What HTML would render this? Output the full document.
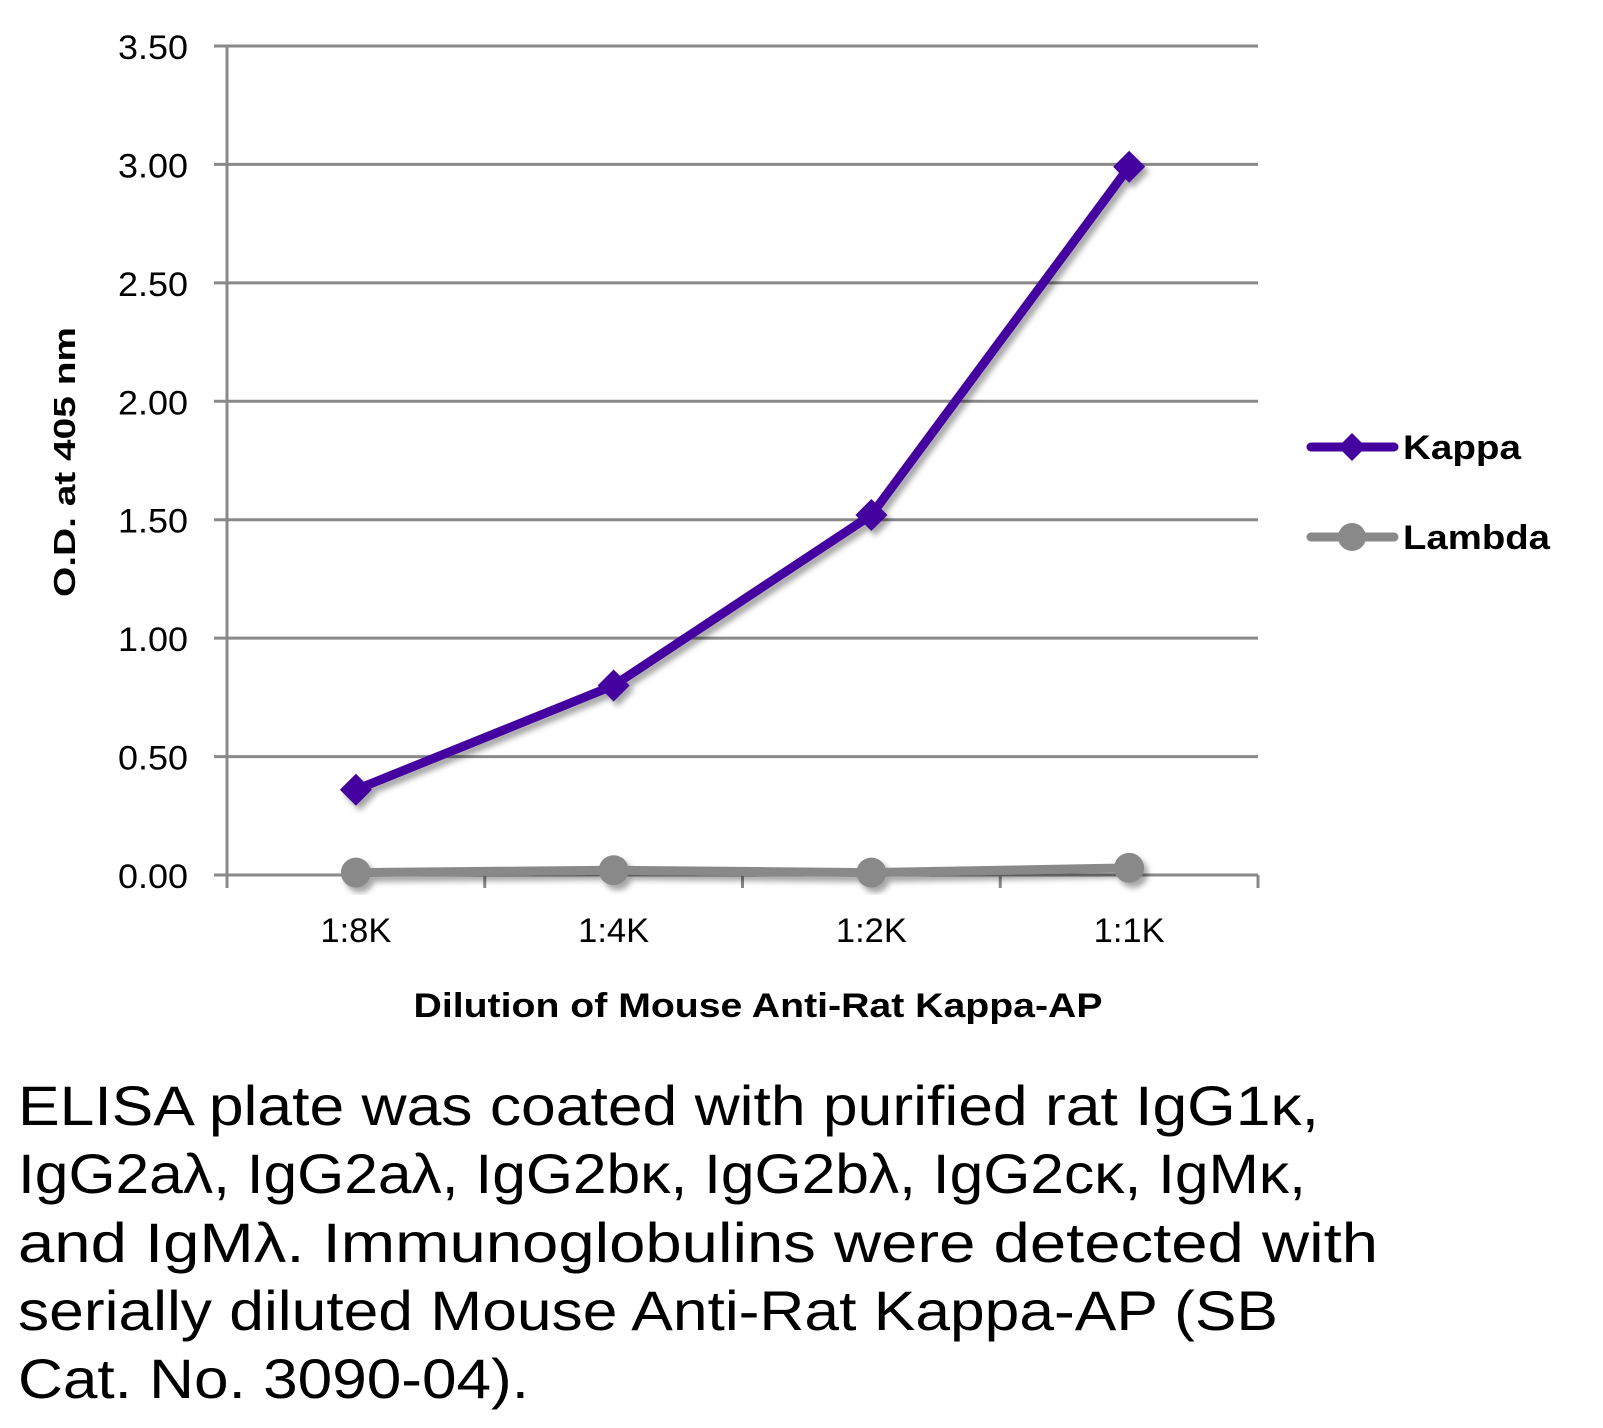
<!DOCTYPE html>
<html><head><meta charset="utf-8"><style>
html,body{margin:0;padding:0;background:#fff;}
svg{display:block;}
text{font-family:"Liberation Sans",sans-serif;}
</style></head><body>
<svg id="chart" width="1603" height="1428" viewBox="0 0 1603 1428" xmlns="http://www.w3.org/2000/svg">
<defs>
<filter id="sh" x="-20%" y="-20%" width="140%" height="140%">
<feDropShadow dx="4" dy="5" stdDeviation="3" flood-color="#000" flood-opacity="0.35"/>
</filter>
</defs>
<g id="grid"></g>
<g id="axes"></g>
<g id="series"></g>
<text transform="translate(75,462) rotate(-90)" text-anchor="middle" font-size="31" font-weight="bold" textLength="270" lengthAdjust="spacingAndGlyphs">O.D. at 405 nm</text>
<text x="758" y="1017" text-anchor="middle" font-size="34" font-weight="bold" textLength="689" lengthAdjust="spacingAndGlyphs">Dilution of Mouse Anti-Rat Kappa-AP</text>
<g>
<g>
<line x1="1311" y1="447" x2="1394" y2="447" stroke="#4500a0" stroke-width="9" stroke-linecap="round"/>
<polygon points="1352,433 1366,447 1352,461 1338,447" fill="#4500a0"/>
<text x="1403" y="459" font-size="34" font-weight="bold" textLength="118" lengthAdjust="spacingAndGlyphs">Kappa</text>
</g>
<g>
<line x1="1311" y1="537" x2="1394" y2="537" stroke="#898989" stroke-width="9" stroke-linecap="round"/>
<circle cx="1352" cy="537" r="14" fill="#898989"/>
<text x="1403" y="549" font-size="34" font-weight="bold" textLength="147" lengthAdjust="spacingAndGlyphs">Lambda</text>
</g>
</g>
<g font-size="56">
<text x="18" y="1125" textLength="1301" lengthAdjust="spacingAndGlyphs">ELISA plate was coated with purified rat IgG1κ,</text>
<text x="18" y="1193" textLength="1288" lengthAdjust="spacingAndGlyphs">IgG2aλ, IgG2aλ, IgG2bκ, IgG2bλ, IgG2cκ, IgMκ,</text>
<text x="18" y="1262" textLength="1360" lengthAdjust="spacingAndGlyphs">and IgMλ.  Immunoglobulins were detected with</text>
<text x="18" y="1330" textLength="1260" lengthAdjust="spacingAndGlyphs">serially diluted Mouse Anti-Rat Kappa-AP (SB</text>
<text x="18" y="1398" textLength="511" lengthAdjust="spacingAndGlyphs">Cat. No. 3090-04).</text>
</g>
</svg>
<script>
const categories = ["1:8K","1:4K","1:2K","1:1K"];
const kappa = [0.36, 0.80, 1.52, 2.99];
const lambda = [0.01, 0.02, 0.01, 0.03];
const yTicks = [0, 0.5, 1.0, 1.5, 2.0, 2.5, 3.0, 3.5];
const yTickLabels = ["0.00","0.50","1.00","1.50","2.00","2.50","3.00","3.50"];

const NS = "http://www.w3.org/2000/svg";
const X0 = 227, X1 = 1258, Y0 = 875, YTOP = 46, YMAX = 3.5;
function xPos(i){ return X0 + (X1 - X0) / categories.length * (i + 0.5); }
function yPos(v){ return Y0 - (Y0 - YTOP) * v / YMAX; }
function mk(tag, attrs, parent){ const e = document.createElementNS(NS, tag); for (const k in attrs) e.setAttribute(k, attrs[k]); parent.appendChild(e); return e; }

const grid = document.getElementById('grid');
const axes = document.getElementById('axes');
const series = document.getElementById('series');

yTicks.forEach((v, i) => {
  const y = yPos(v);
  const gl = mk('line', {x1: 214, x2: X1, y1: y, y2: y, stroke: '#898989', 'stroke-width': 3}, grid);
  
  
  const t = mk('text', {x: 188, y: y + 13, 'text-anchor': 'end', 'font-size': 34, textLength: 70, lengthAdjust: 'spacingAndGlyphs'}, axes);
  t.textContent = yTickLabels[i];
  
  
});

const ya = mk('line', {x1: X0, x2: X0, y1: YTOP, y2: Y0 + 13, stroke: '#898989', 'stroke-width': 3}, axes);


for (let i = 0; i <= categories.length; i++) {
  const x = X0 + (X1 - X0) / categories.length * i;
  const tk = mk('line', {x1: x, x2: x, y1: Y0, y2: Y0 + 13, stroke: '#898989', 'stroke-width': 3}, axes);
  
  
}
categories.forEach((c, i) => {
  const t = mk('text', {x: xPos(i), y: 942, 'text-anchor': 'middle', 'font-size': 34, textLength: 71, lengthAdjust: 'spacingAndGlyphs'}, axes);
  t.textContent = c;
  
  
});

function drawSeries(vals, color, marker, name){
  const g = mk('g', {filter: 'url(#sh)'}, series);
  
  
  const pts = vals.map((v, i) => xPos(i) + ',' + yPos(v)).join(' ');
  const pl = mk('polyline', {points: pts, fill: 'none', stroke: color, 'stroke-width': 9, 'stroke-linejoin': 'round'}, g);
  
  
  vals.forEach((v, i) => {
    const x = xPos(i), y = yPos(v);
    let m;
    if (marker === 'diamond') {
      m = mk('polygon', {points: `${x},${y-16} ${x+16},${y} ${x},${y+16} ${x-16},${y}`, fill: color}, g);
    } else {
      m = mk('circle', {cx: x, cy: y, r: 15, fill: color}, g);
    }
    
    
  });
}
drawSeries(lambda, '#898989', 'circle', 'lambda');
drawSeries(kappa, '#4500a0', 'diamond', 'kappa');
</script>
</body></html>
